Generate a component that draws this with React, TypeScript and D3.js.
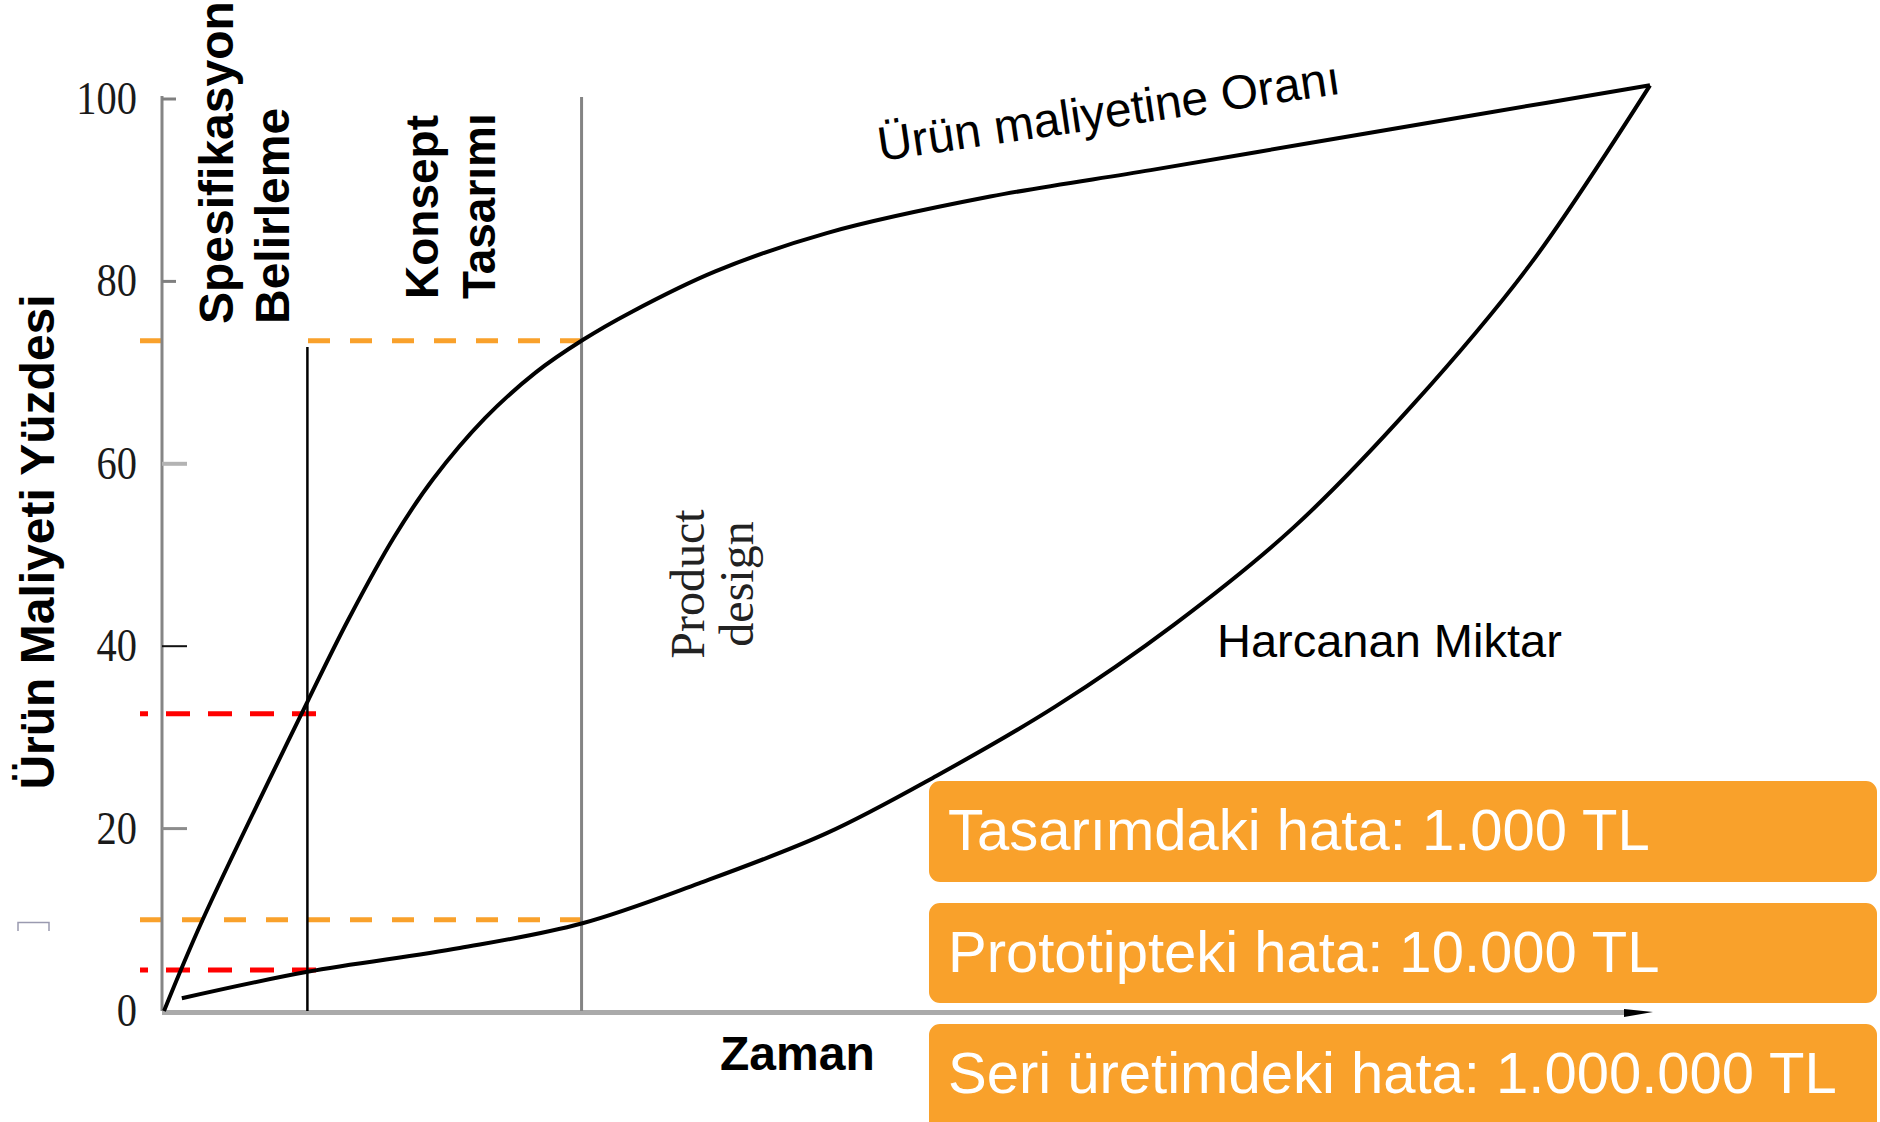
import { useEffect, useRef } from 'react';
import * as d3 from 'd3';

// time is on an arbitrary 0-100 scale, values in percent of product cost
const committedTime = [0, 2.6, 9.65, 12.4, 15.5, 18.1, 21.6, 25.0, 28.2, 31.4, 37.1, 44.6, 55.6, 66.4, 77.2, 88.0, 100];
const committedPct = [0, 10.0, 33.9, 42.9, 52.0, 58.3, 65.0, 70.0, 73.6, 76.6, 81.1, 85.3, 89.3, 92.2, 95.2, 98.2, 101.5];

const spentTime = [1.2, 9.65, 19.9, 28.1, 36, 44.6, 52, 60, 68, 76, 84, 92, 100];
const spentPct = [1.4, 4.3, 6.9, 9.6, 14.0, 19.5, 25.8, 33.4, 42.4, 53.0, 66.4, 82.0, 101.5];

const yTicks = [0, 20, 40, 60, 80, 100];
const phaseEnds = [9.65, 28.1];
const redLevels = [32.6, 4.5];
const orangeLevels = [73.5, 10.0];
const errorCosts = ['Tasarımdaki hata: 1.000 TL', 'Prototipteki hata: 10.000 TL', 'Seri üretimdeki hata: 1.000.000 TL'];

function CostChart() {
  const svgRef = useRef<SVGSVGElement | null>(null);
  const width = 1880;
  const height = 1122;

  useEffect(() => {
    const svg = d3.select(svgRef.current);
    svg.selectAll('*').remove();

    const x = d3.scaleLinear().domain([0, 100]).range([164, 1650]);
    const y = d3.scaleLinear().domain([0, 100]).range([1011, 99]);
    const sans = 'Liberation Sans, Arial, sans-serif';
    const serif = 'Liberation Serif, Times New Roman, serif';
    const orange = '#F9A12B';

    // dashed guide lines
    redLevels.forEach((v) => {
      svg.append('line')
        .attr('x1', 140).attr('x2', x(phaseEnds[0]) + 10)
        .attr('y1', y(v)).attr('y2', y(v))
        .attr('stroke', '#ff0000').attr('stroke-width', 5)
        .attr('stroke-dasharray', '24 18').attr('stroke-dashoffset', 16);
    });
    orangeLevels.forEach((v) => {
      svg.append('line')
        .attr('x1', 140).attr('x2', x(phaseEnds[1]))
        .attr('y1', y(v)).attr('y2', y(v))
        .attr('stroke', orange).attr('stroke-width', 5)
        .attr('stroke-dasharray', '22 20');
    });

    // white label box over the first phase
    svg.append('rect')
      .attr('x', 167).attr('y', 0)
      .attr('width', x(phaseEnds[0]) - 169).attr('height', 347)
      .attr('fill', '#fff');

    // y axis
    svg.append('line')
      .attr('x1', 162).attr('x2', 162)
      .attr('y1', y(100) - 3).attr('y2', y(0))
      .attr('stroke', '#858585').attr('stroke-width', 3);

    const tickLook = (v: number) => {
      if (v === 40) return { c: '#111', w: 2, len: 25 };
      if (v === 60) return { c: '#b3b3b3', w: 4, len: 25 };
      if (v === 20) return { c: '#8c8c8c', w: 3, len: 25 };
      if (v === 0) return { c: '#aaa', w: 0, len: 0 };
      return { c: '#7f7f7f', w: 3, len: 14 };
    };

    const ticks = svg.append('g');
    yTicks.forEach((v) => {
      const t = tickLook(v);
      if (t.len > 0) {
        ticks.append('line')
          .attr('x1', 162).attr('x2', 162 + t.len)
          .attr('y1', y(v)).attr('y2', y(v))
          .attr('stroke', t.c).attr('stroke-width', t.w);
      }
      ticks.append('text')
        .attr('transform', `translate(137,${y(v) + 15}) scale(0.88,1)`)
        .attr('text-anchor', 'end')
        .attr('font-family', serif).attr('font-size', 46)
        .attr('fill', '#1a1a1a')
        .text(v);
    });

    // stray mark left of the axis
    svg.append('path')
      .attr('d', 'M18,931V922.5H49V931')
      .attr('fill', 'none').attr('stroke', '#9a9ab0').attr('stroke-width', 1.5);

    // x axis
    svg.append('line')
      .attr('x1', 162).attr('x2', x(100) - 20)
      .attr('y1', 1012.5).attr('y2', 1012.5)
      .attr('stroke', '#aaaaaa').attr('stroke-width', 5);
    svg.append('path')
      .attr('d', `M${x(100) - 26},1009L${x(100) + 3},1012L${x(100) - 26},1017Z`)
      .attr('fill', '#000');

    // phase boundaries
    svg.append('line')
      .attr('x1', x(phaseEnds[0])).attr('x2', x(phaseEnds[0]))
      .attr('y1', 347).attr('y2', y(0))
      .attr('stroke', '#000').attr('stroke-width', 2.5);
    svg.append('line')
      .attr('x1', x(phaseEnds[1])).attr('x2', x(phaseEnds[1]))
      .attr('y1', 97).attr('y2', y(0))
      .attr('stroke', '#848484').attr('stroke-width', 3);

    // curves
    const line = d3.line<[number, number]>()
      .x((d) => x(d[0]))
      .y((d) => y(d[1]))
      .curve(d3.curveCatmullRom.alpha(0.5));

    const committed = committedTime.map((t, i) => [t, committedPct[i]] as [number, number]);
    const spent = spentTime.map((t, i) => [t, spentPct[i]] as [number, number]);

    [committed, spent].forEach((pts) => {
      svg.append('path')
        .attr('d', line(pts))
        .attr('fill', 'none')
        .attr('stroke', '#000').attr('stroke-width', 4)
        .attr('stroke-linejoin', 'miter');
    });

    // texts
    const vText = (tx: number, ty: number, s: string, size: number, anchor = 'start') =>
      svg.append('text')
        .attr('transform', `translate(${tx},${ty}) rotate(-90)`)
        .attr('text-anchor', anchor)
        .attr('font-family', sans).attr('font-weight', 'bold')
        .attr('font-size', size)
        .attr('fill', '#000')
        .text(s);

    vText(54, 542, 'Ürün Maliyeti Yüzdesi', 48, 'middle');
    vText(233, 324, 'Spesifikasyon', 48);
    vText(289, 324, 'Belirleme', 48);
    vText(438, 299, 'Konsept', 46);
    vText(495, 299, 'Tasarımı', 46);

    [['Product', 704], ['design', 753]].forEach(([s, tx]) => {
      svg.append('text')
        .attr('transform', `translate(${tx},584) rotate(-90)`)
        .attr('text-anchor', 'middle')
        .attr('font-family', serif).attr('font-size', 48)
        .attr('fill', '#222')
        .text(s as string);
    });

    svg.append('text')
      .attr('transform', 'translate(880,161) rotate(-8.3)')
      .attr('font-family', sans).attr('font-size', 48)
      .attr('fill', '#000')
      .text('Ürün maliyetine Oranı');

    svg.append('text')
      .attr('x', 1217).attr('y', 657)
      .attr('font-family', sans).attr('font-size', 47)
      .attr('fill', '#000')
      .text('Harcanan Miktar');

    svg.append('text')
      .attr('x', 720).attr('y', 1070)
      .attr('font-family', sans).attr('font-weight', 'bold').attr('font-size', 48)
      .attr('fill', '#000')
      .text('Zaman');

    // error cost boxes
    const boxTops = [780, 902, 1023];
    const boxHeights = [103, 102, 112];
    const boxes = svg.append('g');
    errorCosts.forEach((s, i) => {
      boxes.append('rect')
        .attr('x', 928).attr('y', boxTops[i])
        .attr('width', 950).attr('height', boxHeights[i])
        .attr('rx', 12)
        .attr('fill', orange)
        .attr('stroke', '#fff').attr('stroke-width', 2);
      boxes.append('text')
        .attr('x', 948).attr('y', boxTops[i] + 70)
        .attr('font-family', sans).attr('font-size', 58)
        .attr('fill', '#fff')
        .text(s);
    });
  }, []);

  return (
    <svg
      ref={svgRef}
      width={width}
      height={height}
      viewBox={`0 0 ${width} ${height}`}
      style={{ position: 'absolute', left: 0, top: 0, display: 'block', background: '#fff' }}
    />
  );
}

export default function App() {
  return <CostChart />;
}
